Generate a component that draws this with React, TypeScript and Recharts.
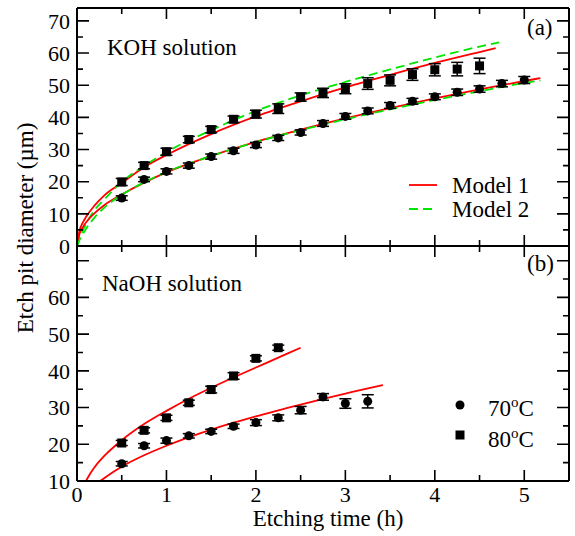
import React from 'react';
import { ComposedChart, Scatter, Line, XAxis, YAxis, ErrorBar } from 'recharts';

// ---- ticks ----
const xTicks = [0, 0.5, 1, 1.5, 2, 2.5, 3, 3.5, 4, 4.5, 5];
const xTickLabels = [0, 1, 2, 3, 4, 5];
const topYTicks = [0, 5, 10, 15, 20, 25, 30, 35, 40, 45, 50, 55, 60, 65, 70];
const topYLabels = [0, 10, 20, 30, 40, 50, 60, 70];
const botYTicks = [10, 15, 20, 25, 30, 35, 40, 45, 50, 55, 60, 65, 70];
const botYLabels = [10, 20, 30, 40, 50, 60];

// ---- KOH (panel a) ----
const kohT70 = [0.5, 0.75, 1, 1.25, 1.5, 1.75, 2, 2.25, 2.5, 2.75, 3, 3.25, 3.5, 3.75, 4, 4.25, 4.5, 4.75, 5];
const kohD70 = [14.9, 20.7, 23.2, 25.0, 27.8, 29.6, 31.4, 33.6, 35.3, 38.1, 40.3, 42.0, 43.7, 45.0, 46.4, 47.8, 48.8, 50.5, 51.6];
const kohE70 = [0.7, 0.7, 0.8, 0.8, 0.8, 0.8, 0.8, 0.8, 0.8, 0.9, 0.9, 0.9, 0.9, 0.9, 0.9, 1.0, 1.0, 1.0, 1.1];

const kohT80 = [0.5, 0.75, 1, 1.25, 1.5, 1.75, 2, 2.25, 2.5, 2.75, 3, 3.25, 3.5, 3.75, 4, 4.25, 4.5];
const kohD80 = [19.9, 25.0, 29.3, 33.1, 36.2, 39.4, 41.0, 42.7, 46.3, 47.6, 48.9, 50.5, 51.5, 53.3, 54.8, 55.0, 56.0];
const kohE80 = [1.1, 1.0, 1.1, 1.0, 1.0, 1.0, 1.2, 1.5, 1.3, 1.45, 1.55, 1.8, 1.7, 1.8, 1.9, 2.1, 2.4];

// model curves
const kohM1T80 = [0, 0.03, 0.06, 0.1, 0.2, 0.3, 0.5, 0.75, 1, 1.5, 2, 2.5, 3, 3.5, 4, 4.5, 4.68];
const kohM1D80 = [0, 5.0, 7.0, 9.0, 12.7, 15.6, 19.6, 24.5, 28.3, 34.8, 40.3, 45.0, 49.3, 53.2, 56.9, 60.3, 61.5];
const kohM2T80 = [0, 0.03, 0.06, 0.1, 0.2, 0.3, 0.5, 0.75, 1, 1.5, 2, 2.5, 3, 3.5, 4, 4.5, 4.72];
const kohM2D80 = [0, 2.5, 4.5, 6.8, 11.3, 14.3, 19.9, 24.9, 29.2, 36.0, 42.0, 46.8, 51.0, 54.9, 58.6, 62.0, 63.3];

const kohM1T70 = [0, 0.03, 0.06, 0.1, 0.2, 0.3, 0.5, 0.75, 1, 1.5, 2, 2.5, 3, 3.5, 4, 4.5, 5, 5.18];
const kohM1D70 = [0, 4.0, 5.6, 7.3, 10.3, 12.6, 16.0, 19.7, 22.9, 28.0, 32.4, 36.2, 39.7, 42.9, 45.9, 48.7, 51.3, 52.2];
const kohM2T70 = [0, 0.03, 0.06, 0.1, 0.2, 0.3, 0.5, 0.75, 1, 1.5, 2, 2.5, 3, 3.5, 4, 4.5, 5, 5.18];
const kohM2D70 = [0, 2.0, 3.5, 5.3, 9.0, 11.8, 15.9, 19.8, 23.0, 28.0, 32.3, 36.0, 39.4, 42.5, 45.4, 48.1, 50.7, 51.5];

// ---- NaOH (panel b) ----
const naT70 = [0.5, 0.75, 1, 1.25, 1.5, 1.75, 2, 2.25, 2.5, 2.75, 3, 3.25];
const naD70 = [14.7, 19.6, 21.0, 22.3, 23.5, 24.9, 25.9, 27.2, 29.3, 32.9, 31.1, 31.7];
const naE70 = [0.6, 0.6, 0.7, 0.6, 0.6, 0.6, 0.8, 0.8, 1.0, 0.9, 1.3, 1.8];

const naT80 = [0.5, 0.75, 1, 1.25, 1.5, 1.75, 2, 2.25];
const naD80 = [20.35, 23.8, 27.2, 31.3, 34.9, 38.6, 43.4, 46.3];
const naE80 = [0.7, 0.7, 0.7, 0.7, 0.9, 0.9, 0.7, 0.7];

const naM1T80 = [0.1, 0.15, 0.2, 0.3, 0.5, 0.75, 1, 1.25, 1.5, 1.75, 2, 2.25, 2.5];
const naM1D80 = [10, 12.1, 13.9, 16.7, 21.1, 25.5, 29.1, 32.4, 35.4, 38.2, 40.9, 43.6, 46.3];
const naM1T70 = [0.26, 0.3, 0.4, 0.5, 0.75, 1, 1.5, 2, 2.5, 3, 3.42];
const naM1D70 = [10, 10.7, 12.4, 13.9, 17.0, 19.6, 24.0, 27.6, 30.8, 33.8, 36.1];

const zip = (xs: number[], ys: number[], es?: number[]) =>
  xs.map((x, i) => ({ x, y: ys[i], e: es ? es[i] : 0 }));

const FONT = "'Liberation Serif', 'Times New Roman', serif";
const W = 575;
const LEFT = 77;
const RIGHT = 6;
const PW = W - LEFT - RIGHT;
const TOP_Y0 = 8;
const TOP_PH = 238;
const BOT_Y0 = 246;
const BOT_PH = 235;
const X_MAX = 5.5;
const RED = '#ff0000';
const GREEN = '#00e600';
const TICK_W = 1.6;

const yLabelTick = (labels: number[]) => (props: any) => {
  const y = Number(props.y);
  const v = props.payload.value;
  if (!labels.includes(v)) return <g />;
  return (
    <text x={LEFT - 7} y={y} dy="0.35em" textAnchor="end" fontFamily={FONT} fontSize={22} fill="#000">
      {v}
    </text>
  );
};

const xLabelTick = (props: any) => {
  const x = Number(props.x);
  const y = Number(props.y);
  const v = props.payload.value;
  if (!xTickLabels.includes(v)) return <g />;
  return (
    <text x={x} y={y + 21} textAnchor="middle" fontFamily={FONT} fontSize={22} fill="#000">
      {v}
    </text>
  );
};

// inward tick marks of a panel frame (same geometry as the chart plot areas)
const frameTicks = (key: string, yTicks: number[], yMin: number, yMax: number, top: number, plotH: number) => {
  const py = (v: number) => top + plotH - ((v - yMin) / (yMax - yMin)) * plotH;
  const px = (t: number) => LEFT + (t / X_MAX) * PW;
  let d = '';
  yTicks.forEach((v) => {
    const len = v % 10 === 0 ? 12 : 6;
    const y = py(v);
    d += `M${LEFT},${y}h${len}M${LEFT + PW},${y}h${-len}`;
  });
  xTicks.forEach((t) => {
    const len = Number.isInteger(t) ? 11 : 6;
    const x = px(t);
    d += `M${x},${top + plotH}v${-len}M${x},${top}v${len}`;
  });
  return <path key={key} d={d} stroke="#000" strokeWidth={TICK_W} fill="none" />;
};

const circleShape = (p: any) => <circle cx={p.cx} cy={p.cy} r={4.5} fill="#000" />;
const squareShape = (p: any) => <rect x={p.cx - 4.5} y={p.cy - 4.5} width={9} height={9} fill="#000" />;

const axisLine = { stroke: '#000', strokeWidth: 2 };

export default function App() {
  return (
    <div style={{ position: 'absolute', left: 0, top: 0, width: W, height: 536, background: '#fff' }}>
      {/* Panel (a) */}
      <div style={{ position: 'absolute', left: 0, top: 0 }}>
        <ComposedChart width={W} height={270} margin={{ top: TOP_Y0 - 1, right: RIGHT - 1, bottom: 23, left: LEFT - 1 }}>
          <XAxis dataKey="x" type="number" domain={[0, X_MAX]} ticks={xTicks} interval={0}
            height={1} tickSize={0} tickMargin={0} axisLine={axisLine} tickLine={false} tick={false} />
          <XAxis xAxisId="t" orientation="top" type="number" domain={[0, X_MAX]} height={1} axisLine={axisLine} tick={false} tickLine={false} />
          <YAxis dataKey="y" type="number" domain={[0, 74]} ticks={topYTicks} interval={0}
            width={1} tickSize={0} tickMargin={0} axisLine={axisLine} tickLine={false}
            tick={yLabelTick(topYLabels)} />
          <YAxis yAxisId="r" orientation="right" type="number" domain={[0, 74]} width={1} axisLine={axisLine} tick={false} tickLine={false} />
          <Line data={zip(kohM1T80, kohM1D80)} dataKey="y" type="monotone" stroke={RED} strokeWidth={1.8} dot={false} isAnimationActive={false} />
          <Line data={zip(kohM2T80, kohM2D80)} dataKey="y" type="monotone" stroke={GREEN} strokeWidth={1.8} strokeDasharray="9 5" dot={false} isAnimationActive={false} />
          <Line data={zip(kohM1T70, kohM1D70)} dataKey="y" type="monotone" stroke={RED} strokeWidth={1.8} dot={false} isAnimationActive={false} />
          <Line data={zip(kohM2T70, kohM2D70)} dataKey="y" type="monotone" stroke={GREEN} strokeWidth={1.8} strokeDasharray="9 5" dot={false} isAnimationActive={false} />
          <Scatter data={zip(kohT80, kohD80, kohE80)} dataKey="y" shape={squareShape} isAnimationActive={false}>
            <ErrorBar dataKey="e" direction="y" width={6} stroke="#000" strokeWidth={1.5} />
          </Scatter>
          <Scatter data={zip(kohT70, kohD70, kohE70)} dataKey="y" shape={circleShape} isAnimationActive={false}>
            <ErrorBar dataKey="e" direction="y" width={6} stroke="#000" strokeWidth={1.5} />
          </Scatter>
        </ComposedChart>
      </div>

      {/* Panel (b) */}
      <div style={{ position: 'absolute', left: 0, top: 236 }}>
        <ComposedChart width={W} height={300} margin={{ top: 9, right: RIGHT - 1, bottom: 0, left: LEFT - 1 }}>
          <XAxis dataKey="x" type="number" domain={[0, X_MAX]} ticks={xTicks} interval={0}
            height={55} tickSize={0} tickMargin={0} axisLine={axisLine} tickLine={false}
            tick={xLabelTick} />
          <XAxis xAxisId="t" orientation="top" type="number" domain={[0, X_MAX]} height={1} axisLine={axisLine} tick={false} tickLine={false} />
          <YAxis dataKey="y" type="number" domain={[10, 74]} ticks={botYTicks} interval={0}
            width={1} tickSize={0} tickMargin={0} axisLine={axisLine} tickLine={false}
            tick={yLabelTick(botYLabels)} />
          <YAxis yAxisId="r" orientation="right" type="number" domain={[10, 74]} width={1} axisLine={axisLine} tick={false} tickLine={false} />
          <Line data={zip(naM1T80, naM1D80)} dataKey="y" type="monotone" stroke={RED} strokeWidth={1.8} dot={false} isAnimationActive={false} />
          <Line data={zip(naM1T70, naM1D70)} dataKey="y" type="monotone" stroke={RED} strokeWidth={1.8} dot={false} isAnimationActive={false} />
          <Scatter data={zip(naT80, naD80, naE80)} dataKey="y" shape={squareShape} isAnimationActive={false}>
            <ErrorBar dataKey="e" direction="y" width={6} stroke="#000" strokeWidth={1.5} />
          </Scatter>
          <Scatter data={zip(naT70, naD70, naE70)} dataKey="y" shape={circleShape} isAnimationActive={false}>
            <ErrorBar dataKey="e" direction="y" width={6} stroke="#000" strokeWidth={1.5} />
          </Scatter>
        </ComposedChart>
      </div>

      {/* Frame tick marks, annotations, legends and axis titles */}
      <svg width={W} height={536} style={{ position: 'absolute', left: 0, top: 0, pointerEvents: 'none' }}
        fontFamily={FONT} fill="#000">
        {frameTicks('ta', topYTicks, 0, 74, TOP_Y0, TOP_PH)}
        {frameTicks('tb', botYTicks, 10, 74, BOT_Y0, BOT_PH)}

        <text x={107} y={55} fontSize={23}>KOH solution</text>
        <text x={102} y={291} fontSize={23}>NaOH solution</text>
        <text x={527} y={35} fontSize={23}>(a)</text>
        <text x={527} y={271} fontSize={23}>(b)</text>

        <line x1={409} x2={437} y1={185} y2={185} stroke={RED} strokeWidth={1.8} />
        <text x={452} y={193} fontSize={23}>Model 1</text>
        <line x1={409} x2={437} y1={209} y2={209} stroke={GREEN} strokeWidth={1.8} strokeDasharray="9 5" />
        <text x={452} y={217} fontSize={23}>Model 2</text>

        <circle cx={460} cy={405} r={4.5} fill="#000" />
        <text x={488} y={416} fontSize={23}>70<tspan dy={-9} fontSize={15}>o</tspan><tspan dy={9}>C</tspan></text>
        <rect x={455.5} y={430.5} width={9} height={9} fill="#000" />
        <text x={488} y={447} fontSize={23}>80<tspan dy={-9} fontSize={15}>o</tspan><tspan dy={9}>C</tspan></text>

        <text x={328} y={526} fontSize={23} textAnchor="middle">Etching time (h)</text>
        <text transform="translate(33,228) rotate(-90)" fontSize={23} textAnchor="middle">Etch pit diameter (µm)</text>
      </svg>
    </div>
  );
}
